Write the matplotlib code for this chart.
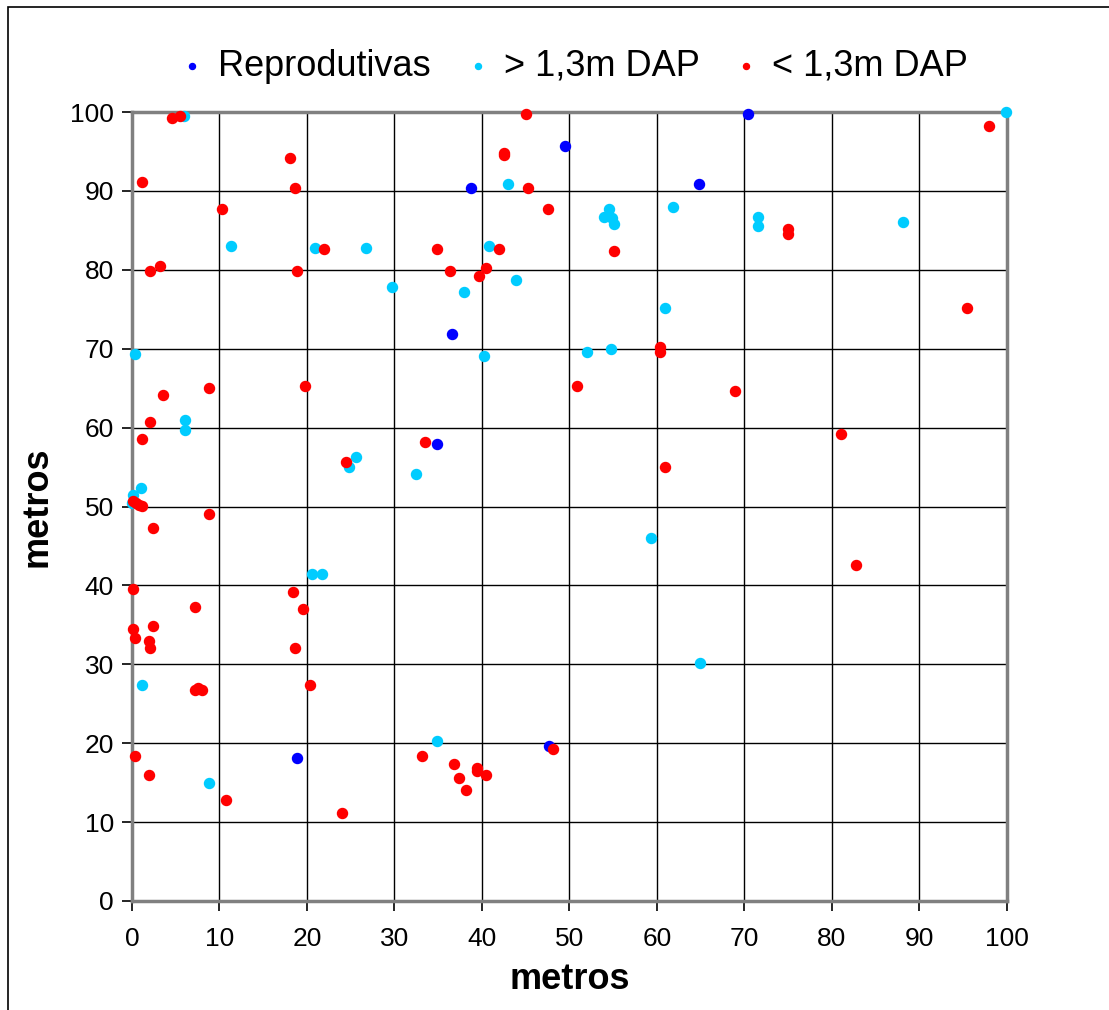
#! python3
# plot.py - mapa de pontos das plantas na parcela de 100 x 100 m
import matplotlib
matplotlib.use('Agg')
import matplotlib.pyplot as plt
from matplotlib.patches import Rectangle

plt.rcParams['font.family'] = ['Liberation Sans', 'DejaVu Sans']

# Reprodutivas
repro_x = [38.7, 49.5, 70.4, 64.8, 36.6, 34.9, 18.9, 47.7]
repro_y = [90.4, 95.7, 99.7, 90.9, 71.9, 57.9, 18.1, 19.6]

# > 1,3m DAP
maior_x = [5.9, 99.9, 11.3, 20.9, 26.7, 29.7, 0.3, 43.0, 40.8, 37.9, 43.9, 40.2,
           54.5, 53.9, 54.9, 55.1, 61.8, 60.9, 52.0, 54.8, 71.6, 71.6, 88.1,
           6.1, 6.1, 1.0, 0.15, 0.0, 25.6, 24.8, 32.5, 20.6, 21.7, 59.3, 64.9,
           1.2, 8.8, 34.9]
maior_y = [99.5, 100.0, 83.0, 82.8, 82.8, 77.8, 69.3, 90.9, 83.0, 77.2, 78.7, 69.1,
           87.7, 86.7, 86.6, 85.8, 88.0, 75.2, 69.6, 70.0, 86.7, 85.5, 86.1,
           61.0, 59.7, 52.3, 51.5, 50.5, 56.3, 55.0, 54.1, 41.4, 41.4, 46.0, 30.2,
           27.4, 15.0, 20.3]

# < 1,3m DAP
menor_x = [4.6, 5.5, 18.1, 1.2, 18.6, 10.3, 22.0, 2.1, 3.2, 18.9,
           45.0, 42.5, 42.5, 45.3, 47.5, 34.9, 41.9, 36.3, 40.5, 39.7, 55.1, 60.4, 60.4,
           97.9, 75.0, 75.0, 95.4,
           3.5, 8.8, 19.8, 2.1, 1.2, 24.5, 0.15, 0.5, 0.8, 1.1, 8.8, 2.4,
           0.15, 18.4, 7.2, 19.5, 0.15, 2.4, 0.4, 1.9, 2.1, 18.6,
           7.2, 7.5, 8.0, 20.3, 0.4, 1.9, 10.8, 24.0, 33.2, 36.8, 37.4, 38.2,
           39.4, 39.4, 40.5, 48.1, 33.5, 50.9, 60.9, 68.9, 81.0, 82.7]
menor_y = [99.2, 99.5, 94.2, 91.1, 90.4, 87.7, 82.7, 79.9, 80.5, 79.8,
           99.8, 94.8, 94.5, 90.4, 87.7, 82.7, 82.7, 79.9, 80.2, 79.2, 82.4, 70.2, 69.6,
           98.3, 85.2, 84.6, 75.2,
           64.1, 65.0, 65.3, 60.7, 58.5, 55.6, 50.7, 50.4, 50.2, 50.1, 49.1, 47.3,
           39.5, 39.2, 37.3, 37.0, 34.5, 34.8, 33.3, 33.0, 32.1, 32.1,
           26.8, 27.0, 26.7, 27.4, 18.4, 15.9, 12.8, 11.2, 18.4, 17.4, 15.6, 14.0,
           16.9, 16.5, 15.9, 19.3, 58.2, 65.3, 55.0, 64.6, 59.2, 42.6]

ticks = list(range(0, 101, 10))

fig = plt.figure(figsize=(11.09, 10.10), dpi=100)
ax = fig.add_axes([0.119, 0.108, 0.789, 0.781])

# moldura externa
fig.patches.append(Rectangle((0.007, -0.1), 1.2, 1.093, transform=fig.transFigure,
                             fill=False, edgecolor='black', linewidth=1.2))

ax.scatter(repro_x, repro_y, s=52, color='#0000FF', label='Reprodutivas', clip_on=False, zorder=3)
ax.scatter(maior_x, maior_y, s=52, color='#00CCFF', label='> 1,3m DAP', clip_on=False, zorder=3)
ax.scatter(menor_x, menor_y, s=52, color='#FF0000', label='< 1,3m DAP', clip_on=False, zorder=3)

ax.set_xlim(0, 100)
ax.set_ylim(0, 100)
ax.set_xticks(ticks)
ax.set_yticks(ticks)
ax.tick_params(axis='both', labelsize=19, length=7, width=1.2, direction='out', color='black')
ax.tick_params(axis='x', pad=12)
ax.tick_params(axis='y', pad=6)
ax.grid(True, color='black', linewidth=1.0)
ax.set_axisbelow(True)
for s in ax.spines.values():
    s.set_color('#808080')
    s.set_linewidth(2.5)

ax.set_xlabel('metros', fontsize=26, fontweight='bold', va='top')
ax.xaxis.set_label_coords(0.5, -0.078)
ax.set_ylabel('metros', fontsize=26, fontweight='bold')
ax.yaxis.set_label_coords(-0.088, 0.5)

ax.legend(loc='center', bbox_to_anchor=(0.506, 1.058), ncol=3, frameon=False,
          fontsize=26, markerscale=0.6, handlelength=0.6, handletextpad=0.42,
          columnspacing=1.0, borderpad=0.0)

fig.savefig('out.png', dpi=100)
